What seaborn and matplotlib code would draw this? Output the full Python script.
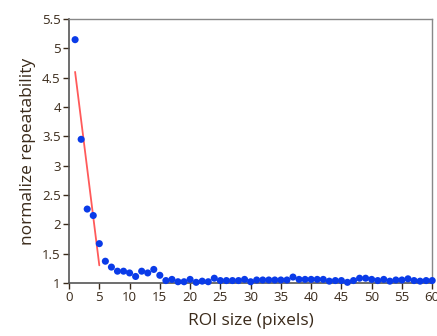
import numpy as np
import pandas as pd
import seaborn as sns
import matplotlib.pyplot as plt

# ROI size vs normalized repeatability
roi_size = list(range(1, 61))
repeatability = [5.15, 3.45, 2.26, 2.15, 1.67, 1.37, 1.27, 1.20, 1.20, 1.17,
                 1.11, 1.20, 1.17, 1.23, 1.13, 1.04, 1.06, 1.02, 1.02, 1.06,
                 1.01, 1.03, 1.02, 1.08, 1.04, 1.04, 1.04, 1.04, 1.06, 1.02,
                 1.05, 1.05, 1.05, 1.05, 1.05, 1.05, 1.10, 1.06, 1.06, 1.06,
                 1.06, 1.06, 1.03, 1.04, 1.04, 1.01, 1.04, 1.08, 1.08, 1.06,
                 1.04, 1.06, 1.03, 1.05, 1.05, 1.07, 1.04, 1.03, 1.04, 1.04]

# fitted line over the first few points
fit_x = [1, 5]
fit_y = [4.6, 1.3]

df = pd.DataFrame({"roi": roi_size, "rep": repeatability})
fit = pd.DataFrame({"roi": fit_x, "rep": fit_y})

sns.set_style("white")
plt.rcParams['font.family'] = ['Open Sans', 'DejaVu Sans']

fig = plt.figure(figsize=(4.37, 3.36), dpi=100)
ax = fig.add_axes([0.158, 0.158, 0.831, 0.785])

sns.lineplot(data=fit, x="roi", y="rep", ax=ax, color="#ff5a5a", linewidth=1.3)
sns.scatterplot(data=df, x="roi", y="rep", ax=ax, color="#0a3be8", s=26,
                edgecolor="none", zorder=3, clip_on=False)

ax.set_xlim(0, 60)
ax.set_ylim(1, 5.5)
ax.set_xticks(np.arange(0, 61, 5))
ax.set_yticks(np.arange(1, 5.6, 0.5))
ax.set_yticklabels(["1", "1.5", "2", "2.5", "3", "3.5", "4", "4.5", "5", "5.5"])

label_col = "#3a2a1a"
ax.set_xlabel("ROI size (pixels)", fontsize=12.5, color=label_col, labelpad=6)
ax.set_ylabel("normalize repeatability", fontsize=12.5, color=label_col, labelpad=4)
ax.tick_params(axis="both", labelsize=9.5, colors=label_col, length=4, width=1,
               direction="out", bottom=True, left=True, pad=2)

for side in ["top", "right"]:
    ax.spines[side].set_color("#888888")
    ax.spines[side].set_linewidth(1)
for side in ["left", "bottom"]:
    ax.spines[side].set_color("#555555")
    ax.spines[side].set_linewidth(1.2)

fig.savefig("out.png", dpi=100)
